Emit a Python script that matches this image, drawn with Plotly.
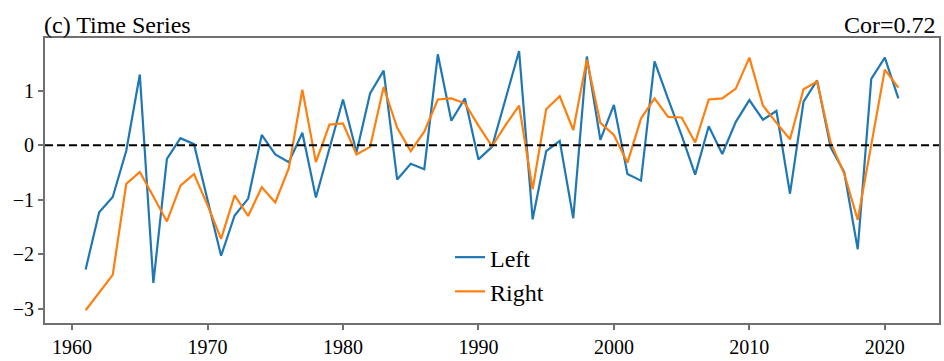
import plotly.graph_objects as go

years = list(range(1961, 2022))

left = [-2.28, -1.23, -0.95, -0.10, 1.30, -2.53, -0.25, 0.13, 0.02, -1.00,
        -2.03, -1.29, -0.98, 0.19, -0.17, -0.31, 0.23, -0.96, -0.06, 0.84,
        -0.13, 0.95, 1.37, -0.63, -0.34, -0.44, 1.67, 0.45, 0.86, -0.26,
        -0.03, 0.86, 1.73, -1.36, -0.11, 0.08, -1.34, 1.63, 0.10, 0.74,
        -0.53, -0.65, 1.54, 0.85, 0.18, -0.54, 0.35, -0.16, 0.43, 0.83,
        0.47, 0.63, -0.89, 0.80, 1.19, -0.04, -0.49, -1.91, 1.22, 1.61,
        0.86]

right = [-3.03, -2.70, -2.38, -0.71, -0.49, -0.94, -1.40, -0.74, -0.53, -1.10,
         -1.72, -0.92, -1.30, -0.77, -1.05, -0.42, 1.02, -0.31, 0.38, 0.40,
         -0.17, -0.03, 1.07, 0.32, -0.11, 0.25, 0.84, 0.86, 0.77, 0.36,
         -0.02, 0.37, 0.73, -0.81, 0.66, 0.90, 0.28, 1.57, 0.41, 0.19,
         -0.32, 0.49, 0.86, 0.52, 0.51, 0.05, 0.84, 0.86, 1.04, 1.61,
         0.73, 0.41, 0.11, 1.03, 1.17, 0.05, -0.52, -1.37, 0.01, 1.39,
         1.06]

x_ticks = [1960, 1970, 1980, 1990, 2000, 2010, 2020]
y_ticks = [-3, -2, -1, 0, 1]

title_left = "(c) Time Series"
title_right = "Cor=0.72"

FONT = "Liberation Serif, Times New Roman, serif"
AXC = "#707070"

fig = go.Figure()
fig.add_trace(go.Scatter(x=years, y=left, mode="lines", name="Left",
                         line=dict(color="#1f77b4", width=2.2)))
fig.add_trace(go.Scatter(x=years, y=right, mode="lines", name="Right",
                         line=dict(color="#ff7f0e", width=2.2)))

fig.add_shape(type="line", xref="paper", x0=0, x1=1, yref="y", y0=0, y1=0,
              line=dict(color="black", width=2.2, dash="8px,4px"), layer="above")

fig.add_annotation(text=title_left, xref="paper", yref="paper", x=0, y=1,
                   xanchor="left", yanchor="bottom", showarrow=False,
                   font=dict(family=FONT, size=24, color="black"), xshift=-3, yshift=-2)
fig.add_annotation(text=title_right, xref="paper", yref="paper", x=1, y=1,
                   xanchor="right", yanchor="bottom", showarrow=False,
                   font=dict(family=FONT, size=24, color="black"), xshift=-1, yshift=-2)

fig.update_layout(
    width=944, height=361,
    margin=dict(l=45, r=3, t=38, b=32),
    plot_bgcolor="white", paper_bgcolor="white",
    font=dict(family=FONT, size=20, color="black"),
    showlegend=True,
    legend=dict(x=0.453, y=0.17, xanchor="left", yanchor="middle",
                bgcolor="rgba(0,0,0,0)", borderwidth=0,
                font=dict(family=FONT, size=24, color="black")),
    xaxis=dict(range=[1958, 2024], tickvals=x_ticks, ticks="outside", ticklen=5,
               tickwidth=1.5, tickcolor=AXC, showgrid=False, zeroline=False,
               showline=True, linecolor=AXC, linewidth=2, mirror=True,
               tickfont=dict(family=FONT, size=20, color="black")),
    yaxis=dict(range=[-3.265, 1.97], tickvals=y_ticks, ticks="outside", ticklen=5,
               tickwidth=1.5, tickcolor=AXC, showgrid=False, zeroline=False,
               showline=True, linecolor=AXC, linewidth=2, mirror=True,
               tickfont=dict(family=FONT, size=20, color="black")),
)

fig.write_html("out.html")
